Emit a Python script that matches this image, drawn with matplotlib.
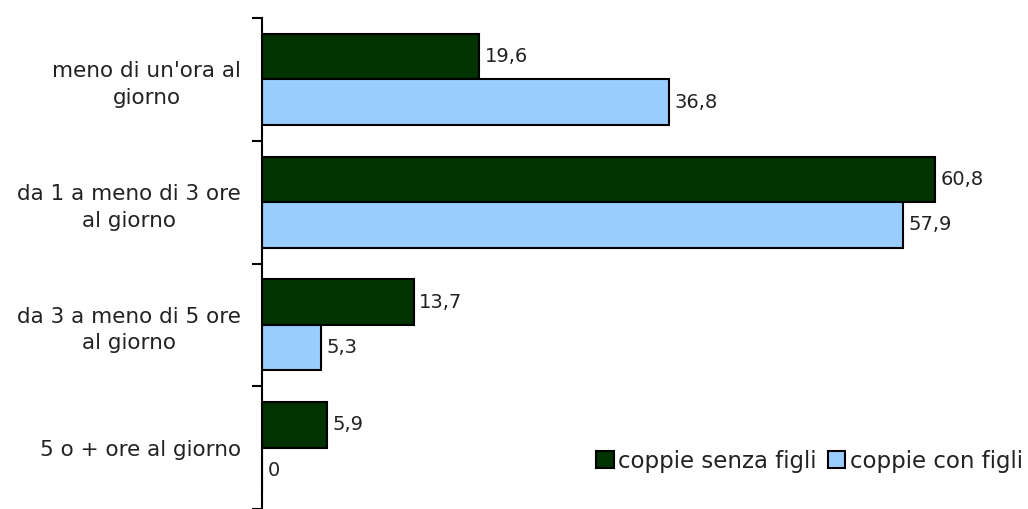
import matplotlib
matplotlib.use('Agg')
import matplotlib.pyplot as plt
import numpy as np

plt.rcParams['font.family'] = ['DejaVu Sans']

categories = ["meno di un'ora al\ngiorno",
              "da 1 a meno di 3 ore\nal giorno",
              "da 3 a meno di 5 ore\nal giorno",
              "5 o + ore al giorno"]
senza_figli = [19.6, 60.8, 13.7, 5.9]
con_figli = [36.8, 57.9, 5.3, 0]
series_names = ["coppie senza figli", "coppie con figli"]

green = "#003300"
blue = "#99ccff"

fig = plt.figure(figsize=(10.28, 5.09), dpi=100)
ax = fig.add_axes([262 / 1028, 0.0, 758 / 1028, 1 - 18 / 509])

y = np.arange(len(categories))
h = 0.37
b1 = ax.barh(y - h / 2, senza_figli, height=h, color=green, edgecolor='black',
             linewidth=1.5, label=series_names[0])
b2 = ax.barh(y + h / 2, con_figli, height=h, color=blue, edgecolor='black',
             linewidth=1.5, label=series_names[1])

for bars, vals in [(b1, senza_figli), (b2, con_figli)]:
    for bar, v in zip(bars, vals):
        ax.annotate(f"{v:g}".replace('.', ','),
                    (v, bar.get_y() + bar.get_height() / 2),
                    xytext=(4, 0), textcoords='offset points',
                    ha='left', va='center', fontsize=14, color='#222222')

ax.set_ylim(len(categories) - 0.5, -0.5)
ax.set_xlim(0, 758 / 11.07)

# labels right-aligned as a block, each line centred
ax.set_yticks(y)
ax.set_yticklabels(categories, fontsize=15.5, ha='right', multialignment='center',
                   color='#222222', linespacing=1.4)
ax.tick_params(axis='y', which='major', length=0, pad=15)
ax.set_yticks(np.arange(-0.5, len(categories), 1), minor=True)
ax.tick_params(axis='y', which='minor', length=7, width=1.5, direction='out')

ax.set_xticks([])
for s in ['top', 'right', 'bottom']:
    ax.spines[s].set_visible(False)
ax.spines['left'].set_linewidth(1.5)

leg = ax.legend(loc='lower right', bbox_to_anchor=(1.016, 0.055), ncol=2, frameon=False,
                fontsize=16.5, handlelength=0.75, handleheight=0.75,
                handletextpad=0.2, columnspacing=0.5, borderaxespad=0)
for t in leg.get_texts():
    t.set_color('#222222')

fig.savefig("out.png", dpi=100)
